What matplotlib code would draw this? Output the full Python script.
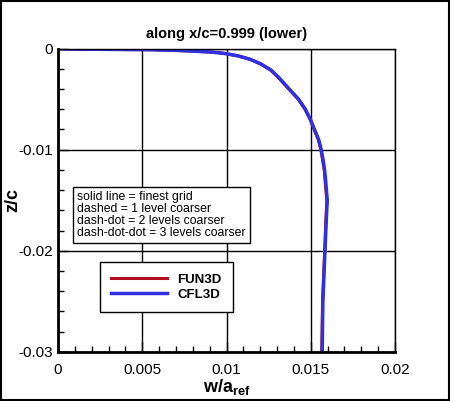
import matplotlib
matplotlib.use('Agg')
import matplotlib.pyplot as plt
from matplotlib.patches import Rectangle
from matplotlib.ticker import MultipleLocator

plt.rcParams['font.family'] = ['Liberation Sans', 'DejaVu Sans']

# profile along x/c=0.999 (lower)
fun3d_w = [0.0, 0.001, 0.003, 0.0055, 0.007, 0.008, 0.009, 0.0095, 0.010, 0.0107,
           0.0114, 0.0120, 0.0126, 0.0131, 0.0137, 0.01425, 0.01466, 0.01496,
           0.0152, 0.01545, 0.0156, 0.0157, 0.0158, 0.01585, 0.0159, 0.01595,
           0.0159, 0.01585, 0.0158, 0.0157, 0.01565]
fun3d_z = [0.0, -0.00004, -0.00007, -0.0001, -0.00017, -0.00024, -0.00033, -0.0004,
           -0.0005, -0.00072, -0.00105, -0.0015, -0.0021, -0.0029, -0.004, -0.005,
           -0.006, -0.007, -0.008, -0.009, -0.010, -0.011, -0.012, -0.013, -0.014,
           -0.015, -0.017, -0.019, -0.021, -0.025, -0.030]
cfl3d_w = [0.0, 0.001, 0.003, 0.0055, 0.007, 0.008, 0.009, 0.0095, 0.010, 0.0107,
           0.0114, 0.01203, 0.01263, 0.01313, 0.01372, 0.01428, 0.01468, 0.01498,
           0.01522, 0.01547, 0.01562, 0.01573, 0.01582, 0.01588, 0.01593, 0.01598,
           0.01592, 0.01587, 0.01582, 0.01572, 0.01568]
cfl3d_z = [0.0, -0.00004, -0.00007, -0.0001, -0.00017, -0.00024, -0.00033, -0.0004,
           -0.0005, -0.00072, -0.00105, -0.0015, -0.0021, -0.0029, -0.004, -0.005,
           -0.006, -0.007, -0.008, -0.009, -0.010, -0.011, -0.012, -0.013, -0.014,
           -0.015, -0.017, -0.019, -0.021, -0.025, -0.030]

note_lines = ['solid line = finest grid',
              'dashed = 1 level coarser',
              'dash-dot = 2 levels coarser',
              'dash-dot-dot = 3 levels coarser']

fig = plt.figure(figsize=(4.5, 4.01), dpi=100)
ax = fig.add_axes([0.1289, 0.1229, 0.7489, 0.7557])

ax.plot(fun3d_w, fun3d_z, color='#b01020', lw=2.2, label='FUN3D')
ax.plot(cfl3d_w, cfl3d_z, color='#3030e0', lw=2.5, label='CFL3D')

ax.set_xlim(0, 0.02)
ax.set_ylim(-0.03, 0)
ax.set_xticks([0, 0.005, 0.01, 0.015, 0.02])
ax.set_xticklabels(['0', '0.005', '0.01', '0.015', '0.02'])
ax.set_yticks([0, -0.01, -0.02, -0.03])
ax.set_yticklabels(['0', '-0.01', '-0.02', '-0.03'])
ax.xaxis.set_minor_locator(MultipleLocator(0.001))
ax.yaxis.set_minor_locator(MultipleLocator(0.002))
ax.tick_params(which='both', direction='in', top=False, right=False,
               labelsize=11, width=1)
ax.tick_params(which='major', length=7)
ax.tick_params(which='minor', length=4)
ax.tick_params(axis='x', pad=8)
ax.grid(True, which='major', color='black', lw=1)
for s in ax.spines.values():
    s.set_linewidth(1)
ax.spines['left'].set_linewidth(2)
ax.spines['bottom'].set_linewidth(2)

ax.set_title('along x/c=0.999 (lower)', fontsize=10.5, fontweight='bold', pad=8)
ax.set_xlabel(r'w/a$_{\mathregular{ref}}$', fontsize=13, fontweight='bold', labelpad=0)
ax.set_ylabel('z/c', fontsize=13, fontweight='bold', labelpad=-2)

ax.text(0.00115, -0.0141, '\n'.join(note_lines), fontsize=8.8, va='top', ha='left',
        linespacing=1.0, zorder=5,
        bbox=dict(boxstyle='square,pad=0.35', fc='white', ec='black', lw=1))

leg = ax.legend(loc='upper left', bbox_to_anchor=(0.125, 0.295), frameon=True,
                fancybox=False, edgecolor='black', framealpha=1,
                prop={'size': 9.5, 'weight': 'bold'}, handlelength=4.2,
                borderpad=0.85, labelspacing=0.2, borderaxespad=0)
leg.get_frame().set_linewidth(1)

fig.patches.append(Rectangle((0.002, 0.002), 0.996, 0.996, transform=fig.transFigure,
                             fill=False, ec='black', lw=1.5))

fig.savefig('out.png', dpi=100)
